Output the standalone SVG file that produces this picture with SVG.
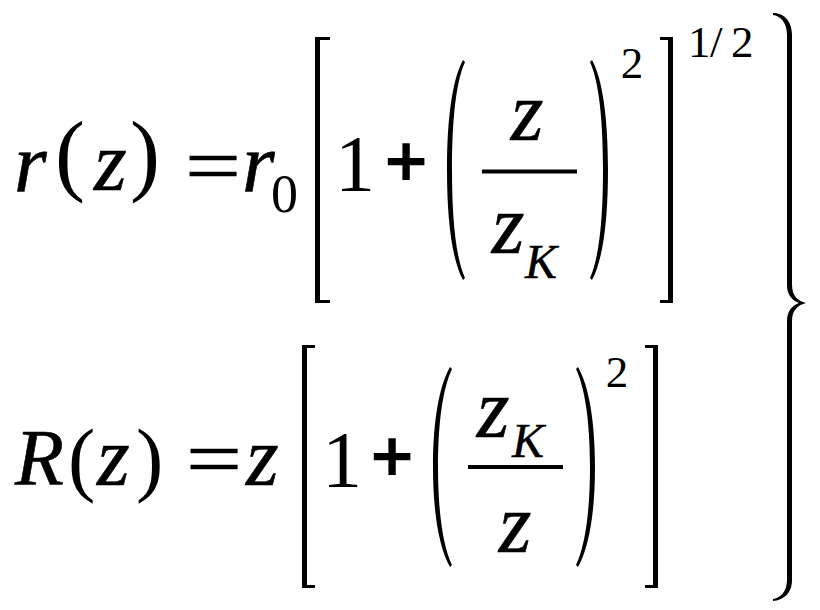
<svg xmlns="http://www.w3.org/2000/svg" width="820" height="610" viewBox="0 0 820 610">
<style>
text{font-family:"Liberation Serif","Times New Roman",serif;fill:#000}
.v{font-style:italic;font-size:84px;stroke:#000;stroke-width:0.6px}
.n{font-size:80px}
.p{font-size:90px}
.op{font-size:80px;stroke:#000;stroke-width:0.6px}
.pl{font-size:74px;font-weight:bold;stroke:#000;stroke-width:2.2px}
.sub{font-style:italic;font-size:48px;stroke:#000;stroke-width:0.4px}
.sup{font-size:45px}
.del{fill:#000}
</style>
<rect width="820" height="610" fill="#fff"/>
<g id="eq1">
  <text class="v" x="14" y="192">r</text>
  <text class="p" x="55" y="184">(</text>
  <text class="v" x="94" y="190">z</text>
  <text class="p" x="130" y="184">)</text>
  <text class="op" x="185" y="193" textLength="56" lengthAdjust="spacingAndGlyphs">=</text>
  <text class="v" x="242" y="192">r</text>
  <text class="n" x="271" y="212" style="font-size:54px">0</text>
  <path class="del" d="M330,37 H315 V303 H330 V300 H320 V40 H330 Z"/>
  <text class="n" x="355" y="191" text-anchor="middle">1</text>
  <text class="pl" x="406" y="186" text-anchor="middle">+</text>
  <path class="del" d="M463,60 C452,80 447,120 447,170 C447,220 452,260 463,280 L465,278 C456,258 452,220 452,170 C452,120 456,82 465,62 Z"/>
  <text class="v" x="527" y="140" text-anchor="middle">z</text>
  <rect x="482" y="169.5" width="95" height="4"/>
  <text class="v" x="508" y="253" text-anchor="middle">z</text>
  <text class="sub" x="541" y="278" text-anchor="middle">K</text>
  <path class="del" d="M592,60 C603,80 608,120 608,170 C608,220 603,260 592,280 L590,278 C599,258 603,220 603,170 C603,120 599,82 590,62 Z"/>
  <text class="sup" x="632" y="78" text-anchor="middle">2</text>
  <path class="del" d="M660,37 H673 V303 H660 V300 H668 V40 H660 Z"/>
  <text class="sup" x="688 710 731" y="57">1/2</text>
</g>
<g id="eq2">
  <text class="v" x="15" y="485" style="font-size:80px">R</text>
  <text class="n" x="68" y="486" style="font-size:82px">(</text>
  <text class="v" x="97" y="485">z</text>
  <text class="n" x="136" y="486" style="font-size:82px">)</text>
  <text class="op" x="186" y="486" textLength="56" lengthAdjust="spacingAndGlyphs">=</text>
  <text class="v" x="246" y="485">z</text>
  <path class="del" d="M315,345 H302 V588 H315 V585 H307 V348 H315 Z"/>
  <text class="n" x="342" y="487" text-anchor="middle">1</text>
  <text class="pl" x="392" y="481" text-anchor="middle">+</text>
  <path class="del" d="M450,367 C439,386 433,422 433,467 C433,512 439,548 450,567 L452,565 C443,546 438,512 438,467 C438,422 443,388 452,369 Z"/>
  <text class="v" x="493" y="437" text-anchor="middle">z</text>
  <text class="sub" x="528" y="457" text-anchor="middle">K</text>
  <rect x="468" y="465" width="95" height="4"/>
  <text class="v" x="515" y="552" text-anchor="middle">z</text>
  <path class="del" d="M578,367 C589,386 595,422 595,467 C595,512 589,548 578,567 L576,565 C585,546 590,512 590,467 C590,422 585,388 576,369 Z"/>
  <text class="sup" x="617" y="387" text-anchor="middle">2</text>
  <path class="del" d="M645,345 H658 V588 H645 V585 H653 V348 H645 Z"/>
</g>
<g id="brace">
  <path class="del" d="M773,13 C783,13 792,20 792,35 V285 C792,296 798,301 806,303 C798,305 792,310 792,321 V580 C792,594 783,600 773,601 L773,599 C780,598 787,592 787,580 V321 C787,312 791,306 799,303 C791,300 787,294 787,285 V35 C787,22 780,16 773,15 Z"/>
</g>
</svg>
